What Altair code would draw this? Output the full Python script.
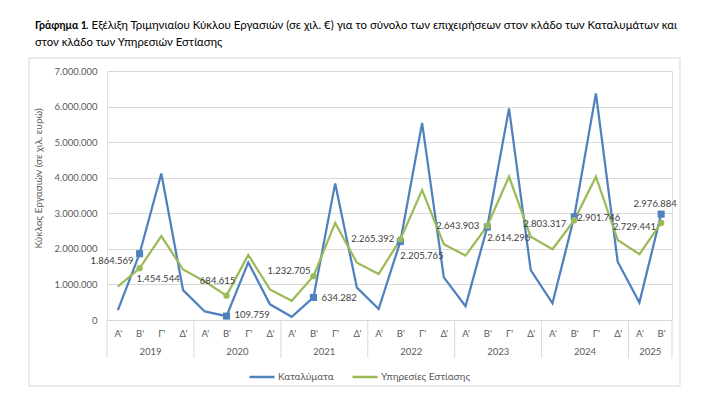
import json
import altair as alt
import pandas as pd

# ---------------- data ----------------
years = ["2019", "2020", "2021", "2022", "2023", "2024", "2025"]
quarters_per_year = [4, 4, 4, 4, 4, 4, 2]
quarter_names = ["Α'", "Β'", "Γ'", "Δ'"]
series_names = ["Καταλύματα", "Υπηρεσίες Εστίασης"]

katalymata = [280000, 1864569, 4120000, 840000,
              240000, 109759, 1620000, 440000,
              90000, 634282, 3840000, 910000,
              310000, 2205765, 5540000, 1200000,
              390000, 2614296, 5950000, 1400000,
              470000, 2901746, 6370000, 1640000,
              490000, 2976884]
estiasi = [940000, 1454544, 2360000, 1420000,
           1080000, 684615, 1830000, 860000,
           540000, 1232705, 2730000, 1610000,
           1290000, 2265392, 3650000, 2130000,
           1810000, 2643903, 4030000, 2340000,
           1990000, 2803317, 4030000, 2250000,
           1850000, 2729441]
y_ticks = [0, 1000000, 2000000, 3000000, 4000000, 5000000, 6000000, 7000000]

title_bold = "Γράφημα 1"
title_rest = ". Εξέλιξη Τριμηνιαίου Κύκλου Εργασιών (σε χιλ. €) για το σύνολο των επιχειρήσεων στον κλάδο των Καταλυμάτων και"
title_line2 = "στον κλάδο των Υπηρεσιών Εστίασης"
y_title = "Κύκλος Εργασιών (σε χιλ. ευρώ)"

# ---------------- styles ----------------
colors = ["#4F81BD", "#9BBB59"]
FONT = "Lato"
GRID = "#d9d9d9"
TXT = "#595959"
LBL = "#404040"

# per-label placement (align, dx, dy) keyed by (series, year)
label_place = {
    ("Καταλύματα", "2019"): ("right", -6, 7),
    ("Καταλύματα", "2020"): ("left", 8, -1),
    ("Καταλύματα", "2021"): ("left", 8, 1),
    ("Καταλύματα", "2022"): ("left", 0, 14),
    ("Καταλύματα", "2023"): ("left", 0, 11),
    ("Καταλύματα", "2024"): ("left", 3, 1),
    ("Καταλύματα", "2025"): ("center", -6, -10),
    ("Υπηρεσίες Εστίασης", "2019"): ("left", -3, 11),
    ("Υπηρεσίες Εστίασης", "2020"): ("center", -9, -15),
    ("Υπηρεσίες Εστίασης", "2021"): ("right", -3, -5),
    ("Υπηρεσίες Εστίασης", "2022"): ("right", -6, 0),
    ("Υπηρεσίες Εστίασης", "2023"): ("right", -8, 0),
    ("Υπηρεσίες Εστίασης", "2024"): ("right", -8, 4),
    ("Υπηρεσίες Εστίασης", "2025"): ("right", -5, 4),
}

# ---------------- tables ----------------
periods = []
for y, n in zip(years, quarters_per_year):
    for q in quarter_names[:n]:
        periods.append((y, q))

rows = []
for s, vals in zip(series_names, [katalymata, estiasi]):
    for i, ((y, q), v) in enumerate(zip(periods, vals)):
        rows.append({"idx": i, "year": y, "quarter": q, "series": s,
                     "value": v, "label": f"{v:,}".replace(",", ".")})
df = pd.DataFrame(rows)

per = pd.DataFrame([{"idx": i, "year": y, "quarter": q} for i, (y, q) in enumerate(periods)])
bounds = sorted(set((per.groupby("year")["idx"].min() - 0.5).tolist()
                    + [per["idx"].max() + 0.5]))
df_bounds = pd.DataFrame({"idx": bounds})
one = pd.DataFrame({"k": [0]})

n = len(periods)
W, H = 565, 249

x_enc = alt.X("idx:Q",
              scale=alt.Scale(domain=[-0.5, n - 0.5], nice=False, zero=False),
              axis=alt.Axis(values=list(range(n)),
                            labelExpr=json.dumps([q for _, q in periods]) + "[datum.value]",
                            labelOverlap=False,
                            grid=False, ticks=False, domain=True, domainColor=GRID,
                            labelPadding=8, labelFontSize=9.5, labelColor=TXT,
                            labelFont=FONT, title=None))
y_enc = alt.Y("value:Q",
              scale=alt.Scale(domain=[0, 7000000], nice=False),
              axis=alt.Axis(values=y_ticks,
                            labelExpr="replace(format(datum.value, ',.0f'), regexp(',', 'g'), '.')",
                            labelOverlap=False,
                            grid=True, gridColor=GRID, domain=False, ticks=False,
                            labelPadding=10, labelFontSize=9.5, labelColor=TXT, labelFont=FONT,
                            title=y_title, titleFont=FONT, titleFontSize=10,
                            titleFontWeight="normal", titleColor=TXT,
                            titleX=-69, titleY=107, titleAngle=270,
                            titleAlign="center", titleBaseline="middle"))

base = alt.Chart(df)

lines = base.mark_line(strokeWidth=2.25).encode(
    x=x_enc, y=y_enc,
    color=alt.Color("series:N",
                    scale=alt.Scale(domain=series_names, range=colors),
                    sort=series_names,
                    legend=alt.Legend(orient="none", legendX=141, legendY=292,
                                      direction="horizontal", title=None,
                                      symbolType="stroke", symbolSize=625,
                                      symbolStrokeWidth=2.5, labelFontSize=10,
                                      labelColor=TXT, labelFont=FONT,
                                      columnPadding=13, labelOffset=2)),
    detail="series:N")

layers = [lines]

marker_shapes = ["square", "circle"]
marker_sizes = [50, 40]
for s, c, sh, sz in zip(series_names, colors, marker_shapes, marker_sizes):
    layers.append(
        base.transform_filter(
            (alt.datum.series == s) & (alt.datum.quarter == quarter_names[1])
        ).mark_point(shape=sh, size=sz, filled=True, opacity=1, color=c).encode(
            x=x_enc, y=y_enc))

for (s, yr), (al, dx, dy) in label_place.items():
    layers.append(
        base.transform_filter(
            (alt.datum.series == s) & (alt.datum.quarter == quarter_names[1]) & (alt.datum.year == yr)
        ).mark_text(align=al, baseline="middle", dx=dx, dy=dy, fontSize=9.5,
                    font=FONT, color=LBL).encode(
            x=x_enc, y=y_enc, text="label:N"))

# category separators
layers.append(alt.Chart(df_bounds).mark_rule(color=GRID, strokeWidth=1).encode(
    x=x_enc, y=alt.value(H), y2=alt.value(H + 38)))

# year labels
layers.append(alt.Chart(per).transform_aggregate(
    idx="mean(idx)", groupby=["year"]).mark_text(
    baseline="middle", fontSize=9.5, font=FONT, color=TXT).encode(
    x=x_enc, y=alt.value(H + 32), text="year:N"))

# frame
layers.append(alt.Chart(one).mark_rect(fillOpacity=0, stroke=GRID, strokeWidth=1).encode(
    x=alt.value(-78), x2=alt.value(573), y=alt.value(-13), y2=alt.value(315)))

# title
layers.append(alt.Chart(one).mark_text(align="left", baseline="middle", fontSize=10.5,
                                       fontWeight="bold", font=FONT, color="#000000").encode(
    x=alt.value(-72), y=alt.value(-45), text=alt.value(title_bold)))
layers.append(alt.Chart(one).mark_text(align="left", baseline="middle", fontSize=11.4,
                                       font=FONT, color="#000000").encode(
    x=alt.value(-21), y=alt.value(-45), text=alt.value(title_rest)))
layers.append(alt.Chart(one).mark_text(align="left", baseline="middle", fontSize=11.3,
                                       font=FONT, color="#000000").encode(
    x=alt.value(-72), y=alt.value(-28), text=alt.value(title_line2)))

chart = alt.layer(*layers).properties(
    width=W, height=H,
    autosize=alt.AutoSizeParams(type="none"),
    padding={"left": 99, "top": 63, "right": 40, "bottom": 70},
).configure_view(stroke="transparent").configure_axis(
    labelOverlap=False
).configure(font=FONT)

chart.save("out.html", embed_options={"renderer": "svg", "actions": False})
